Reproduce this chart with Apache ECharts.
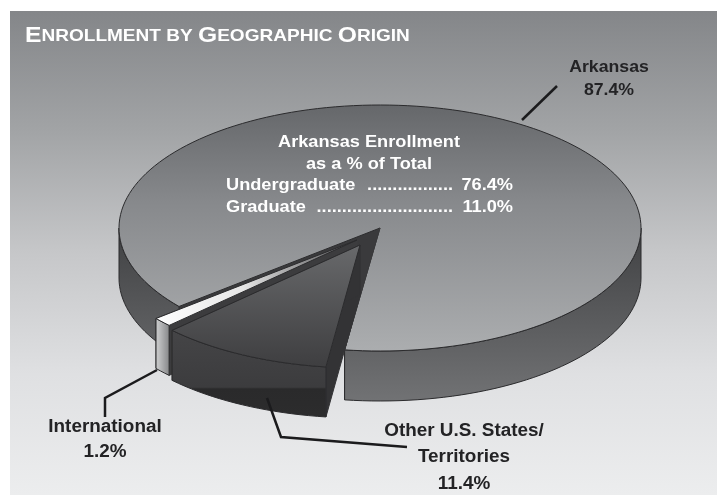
<!DOCTYPE html>
<html>
<head>
<meta charset="utf-8">
<style>
html, body { margin: 0; padding: 0; background: #fff; }
#main { width: 717px; height: 495px; }
</style>
<script src="https://cdn.jsdelivr.net/npm/echarts@6/dist/echarts.min.js"></script>
</head>
<body>
<div id="main"></div>
<script>
// chart values
var categories = ['Arkansas', 'International', 'Other U.S. States/ Territories'];
var shares = [87.4, 1.2, 11.4];
var breakdownLabels = ['Undergraduate', 'Graduate'];
var breakdownValues = [76.4, 11.0];

// pie geometry (ellipse, wall height, first cut angle measured clockwise from straight down)
var cx = 380, cy = 228, rx = 261, ry = 123, depth = 50, firstCut = 7.5;
var sliceOffset = [[0, 0], [-23, 12], [-20, 17]];
var sliceExtra = [2.8, 0, -2.5];

var fontFamily = '"Liberation Sans", Arial, sans-serif';
var dark = '#232325';

function vGrad(y1, y2, stops) {
  return new echarts.graphic.LinearGradient(0, y1, 0, y2, stops, true);
}
function hGrad(x1, x2, stops) {
  return new echarts.graphic.LinearGradient(x1, 0, x2, 0, stops, true);
}
function stops(list) {
  return list.map(function (s) { return { offset: s[0], color: s[1] }; });
}

var sliceColors = [
  {
    top: vGrad(104, 350, stops([[0, '#65676a'], [0.4, '#87898c'], [1, '#abadaf']])),
    wall: vGrad(235, 400, stops([[0, '#424345'], [1, '#717274']])),
    cut: '#3a3a3c'
  },
  {
    top: hGrad(155, 350, stops([[0, '#ffffff'], [0.45, '#e6e6e6'], [1, '#505052']])),
    wall: hGrad(158, 175, stops([[0, '#c4c5c6'], [1, '#67686a']])),
    cut: '#3c3c3e'
  },
  {
    top: vGrad(245, 365, stops([[0, '#68696b'], [1, '#3f3f41']])),
    wall: vGrad(328, 415, stops([[0, '#454547'], [0.68, '#3c3c3e'], [0.7, '#2a2a2b'], [1, '#2c2c2d']])),
    cut: '#333335'
  }
];

// start/end of each slice, walked from the first cut through Other, International, Arkansas
var sliceAngles = [];
(function () {
  var a = firstCut;
  for (var i = shares.length - 1; i >= 0; i--) {
    var sweep = shares[i] * 3.6 + sliceExtra[i];
    sliceAngles[i] = [a, a + sweep];
    a += sweep;
  }
})();

function rim(c, angle, h) {
  var t = angle * Math.PI / 180;
  return [c[0] - rx * Math.sin(t), c[1] + ry * Math.cos(t) + h];
}
function arc(c, a0, a1, h) {
  var pts = [];
  var n = Math.max(2, Math.ceil(Math.abs(a1 - a0) / 2));
  for (var i = 0; i <= n; i++) {
    pts.push(rim(c, a0 + (a1 - a0) * i / n, h));
  }
  return pts;
}
function poly(points, fill, stroke) {
  return {
    type: 'polygon',
    shape: { points: points },
    style: { fill: fill, stroke: stroke || '#2b2b2d', lineWidth: 1, lineJoin: 'round' }
  };
}

function renderSlice(params, api) {
  var i = params.dataIndex;
  var c = [cx + sliceOffset[i][0], cy + sliceOffset[i][1]];
  var a0 = sliceAngles[i][0], a1 = sliceAngles[i][1];
  var col = sliceColors[i];
  var children = [];

  // flat cut faces
  [a0, a1].forEach(function (a) {
    var p = rim(c, a, 0), q = rim(c, a, depth);
    children.push(poly([c, [c[0], c[1] + depth], q, p], col.cut, col.cut));
  });
  // outer wall, only the parts that face the viewer
  [[-90, 90], [270, 450]].forEach(function (win) {
    var s = Math.max(a0, win[0]), e = Math.min(a1, win[1]);
    if (e > s) {
      var pts = arc(c, s, e, 0).concat(arc(c, e, s, depth));
      children.push(poly(pts, col.wall));
    }
  });
  // top face
  children.push(poly([c].concat(arc(c, a0, a1, 0)), col.top));
  // dark inside of the notch left by the pulled-out slices
  if (i === 0) {
    var tipX = c[0] + sliceOffset[2][0], tipY = c[1] + sliceOffset[2][1];
    children.push(poly([c, rim(c, a1, 0), [tipX, tipY + depth], [tipX, tipY]], col.cut, col.cut));
  }

  return { type: 'group', children: children };
}

// the reference type is slightly stretched, so text gets a small horizontal scale
function label(text, x, y, color, align, size, stretch) {
  return {
    type: 'text',
    x: x,
    y: y,
    z: 100,
    scaleX: stretch || 1.05,
    silent: true,
    style: {
      text: text,
      fill: color,
      font: 'bold ' + (size || 18) + 'px ' + fontFamily,
      align: align || 'center',
      verticalAlign: 'middle'
    }
  };
}
function leader(points) {
  return {
    type: 'polyline',
    z: 100,
    silent: true,
    shape: { points: points },
    style: { stroke: '#1b1b1d', lineWidth: 2.5, fill: null }
  };
}

var dots = ['.................', '...........................'];
var graphicItems = [
  {
    type: 'text',
    x: 25,
    y: 36,
    z: 100,
    scaleX: 1.12,
    silent: true,
    style: {
      text: '{b|E}{s|NROLLMENT BY }{b|G}{s|EOGRAPHIC }{b|O}{s|RIGIN}',
      verticalAlign: 'middle',
      rich: {
        b: { fontFamily: fontFamily, fontWeight: 'bold', fontSize: 22, fill: '#fff' },
        s: { fontFamily: fontFamily, fontWeight: 'bold', fontSize: 17, fill: '#fff' }
      }
    }
  },
  label(categories[0], 609, 67, dark, 'center', 17, 1.04),
  label(shares[0].toFixed(1) + '%', 609, 90, dark, 'center', 17, 1.04),
  label('International', 105, 427, dark),
  label(shares[1].toFixed(1) + '%', 105, 452, dark),
  label('Other U.S. States/', 464, 431, dark),
  label('Territories', 464, 457, dark),
  label(shares[2].toFixed(1) + '%', 464, 484, dark),
  label('Arkansas Enrollment', 369, 142, '#fff', 'center', 17, 1.07),
  label('as a % of Total', 369, 164, '#fff', 'center', 17, 1.07),
  leader([[522, 120], [557, 86]]),
  leader([[157, 370], [105, 398], [105, 417]]),
  leader([[267, 398], [281, 437], [407, 447]])
];
breakdownLabels.forEach(function (name, i) {
  var y = 185 + i * 22;
  graphicItems.push(label(name, 226, y, '#fff', 'left', 17, 1.07));
  graphicItems.push(label(dots[i], 453, y, '#fff', 'right', 17, 1.07));
  graphicItems.push(label(breakdownValues[i].toFixed(1) + '%', 513, y, '#fff', 'right', 17, 1.07));
});

var chart = echarts.init(document.getElementById('main'), null, { renderer: 'canvas' });
chart.setOption({
  animation: false,
  graphic: {
    elements: [
      {
        type: 'rect',
        z: -10,
        silent: true,
        shape: { x: 10, y: 11, width: 707, height: 484 },
        style: {
          fill: vGrad(11, 495, stops([[0, '#848689'], [0.25, '#a2a4a6'], [0.5, '#c6c7c9'], [0.75, '#dfe0e2'], [1, '#ecedee']]))
        }
      }
    ].concat(graphicItems)
  },
  series: [{
    type: 'custom',
    coordinateSystem: 'none',
    silent: true,
    renderItem: renderSlice,
    data: shares
  }]
});
</script>
</body>
</html>
